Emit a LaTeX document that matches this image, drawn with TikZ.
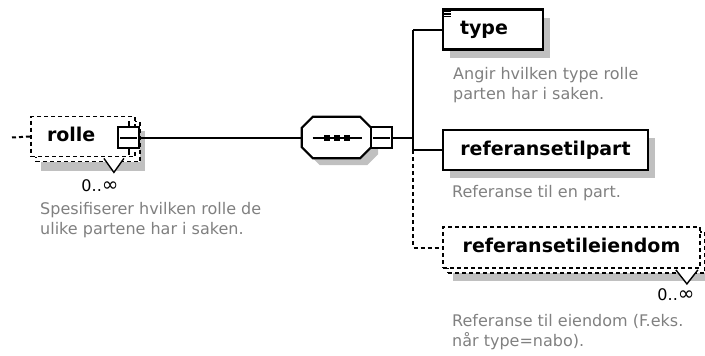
\documentclass[tikz,border=0pt]{standalone}
\usepackage{fontspec}
\setmainfont{DejaVu Sans}
\usetikzlibrary{calc,shadows}
\definecolor{descgray}{RGB}{128,128,128}
\definecolor{shadegray}{RGB}{192,192,192}
\tikzset{
	conn/.style={line width=2pt},
	optdash/.style={dash pattern=on 4pt off 3pt},
	boxshade/.style 2 args={general shadow={fill=shadegray, shadow xshift=#1, shadow yshift=#2}},
	stackcopy/.style={general shadow={draw, fill=white, line width=1.8pt, dash pattern=on 4pt off 3pt, shadow xshift=5pt, shadow yshift=-5pt}},
	elem/.style={draw, fill=white, line width=2.2pt, inner sep=0pt, minimum height=40pt, text height=14pt, text depth=4pt, font=\fontsize{19}{22}\selectfont\bfseries},
	optelem/.style={elem, line width=1.8pt, optdash},
	seqbox/.style={minimum width=69pt, minimum height=41pt, inner sep=0pt},
	expbox/.style={draw, fill=white, line width=1.8pt, minimum size=21pt, inner sep=0pt},
	desc/.style={text=descgray, anchor=north west, align=left, inner sep=0pt, font=\fontsize{16}{20}\selectfont},
	occ/.style={inner sep=0pt, font=\fontsize{16}{20}\selectfont}
}
\begin{document}
\begin{tikzpicture}[x=1pt, y=-1pt]
	\useasboundingbox (0,0) rectangle (705,356);
	% rolle
	\node[optelem, boxshade={10pt}{-14pt}, stackcopy, minimum width=104pt, text width=72pt, align=left, inner xsep=16pt] (rolle) at (83,136.5) {rolle};
	\node[expbox] (rolleexp) at (128.5,137.5) {};
	\draw[conn] (rolleexp.north) -- ++(0,-5) (rolleexp.south) -- ++(0,6);
	\draw[conn] ($(rolleexp.west)+(3,0)$) -- ($(rolleexp.east)+(-3,0)$);
	\draw[line width=1.4pt, fill=white] ($(rolle.south east)+(-32,1)$) -- ++(10,14) -- ++(10,-14);
	\node[occ] (rolleocc) at (100,186) {0..{\fontsize{20}{20}\selectfont ∞}};
	\node[desc] (rolledesc) at (40,202) {Spesifiserer hvilken rolle de\\ulike partene har i saken.};
	
	% sekvens
	\node[seqbox] (seq) at (336.5,137.5) {};
	\fill[shadegray, transform canvas={shift={(7pt,-7pt)}}] ($(seq.north west)+(11,0)$) -- ($(seq.north east)+(-11,0)$) -- ($(seq.north east)+(0,11)$) -- ($(seq.south east)+(0,-11)$) -- ($(seq.south east)+(-11,0)$) -- ($(seq.south west)+(11,0)$) -- ($(seq.south west)+(0,-11)$) -- ($(seq.north west)+(0,11)$) -- cycle;
	\draw[line width=2.2pt, fill=white] ($(seq.north west)+(11,0)$) -- ($(seq.north east)+(-11,0)$) -- ($(seq.north east)+(0,11)$) -- ($(seq.south east)+(0,-11)$) -- ($(seq.south east)+(-11,0)$) -- ($(seq.south west)+(11,0)$) -- ($(seq.south west)+(0,-11)$) -- ($(seq.north west)+(0,11)$) -- cycle;
	\draw[conn] ($(seq.center)+(-24,0)$) -- ($(seq.center)+(25,0)$);
	\foreach \dx in {-10,0,10}
		\fill ($(seq.center)+(\dx,0)$) +(-3,-3) rectangle +(3,3);
	\node[expbox] (seqexp) at (381.5,137.5) {};
	\draw[conn] ($(seqexp.west)+(3,0)$) -- ($(seqexp.east)+(-3,0)$);
	
	\coordinate (stub) at (12,137.5);
	\coordinate (bus) at (413,137.5);
	\draw[conn, optdash] (stub) -- (rolle.west);
	\draw[conn] (rolleexp.east) -- (seq.west);
	\draw[conn] (seqexp.east) -- (bus);
	
	% barn
	\node[elem, boxshade={7pt}{-8pt}, minimum width=100pt, text width=66pt, align=left, inner xsep=17pt] (type) at (493,29.5) {type};
	\foreach \dy in {3,5.5,8}
		\draw[line width=1.3pt] ($(type.north west)+(2,\dy)$) -- ++(7,0);
	\node[desc] (typedesc) at (453,67) {Angir hvilken type rolle\\parten har i saken.};
	
	\node[elem, boxshade={7pt}{-8pt}, minimum width=205pt] (reftilpart) at (545.5,150) {referansetilpart};
	\node[desc] (partdesc) at (452,185) {Referanse til en part.};
	
	\node[optelem, boxshade={10pt}{-13pt}, stackcopy, minimum width=257pt, minimum height=41pt] (refeiendom) at (571.5,247.5) {referansetileiendom};
	\draw[line width=1.4pt, fill=white] ($(refeiendom.south east)+(-25,1)$) -- ++(11,14) -- ++(11,-14);
	\node[occ] (eiendomocc) at (676,295) {0..{\fontsize{20}{20}\selectfont ∞}};
	\node[desc] (eiendomdesc) at (452,314) {Referanse til eiendom (F.eks.\\når type=nabo).};
	
	\draw[conn] (bus |- type.west) -- (type.west);
	\draw[conn] (bus |- type.west) -- (bus |- reftilpart.west) -- (reftilpart.west);
	\draw[conn, optdash] (bus |- reftilpart.west) -- (bus |- refeiendom.west) -- (refeiendom.west);
\end{tikzpicture}
\end{document}
